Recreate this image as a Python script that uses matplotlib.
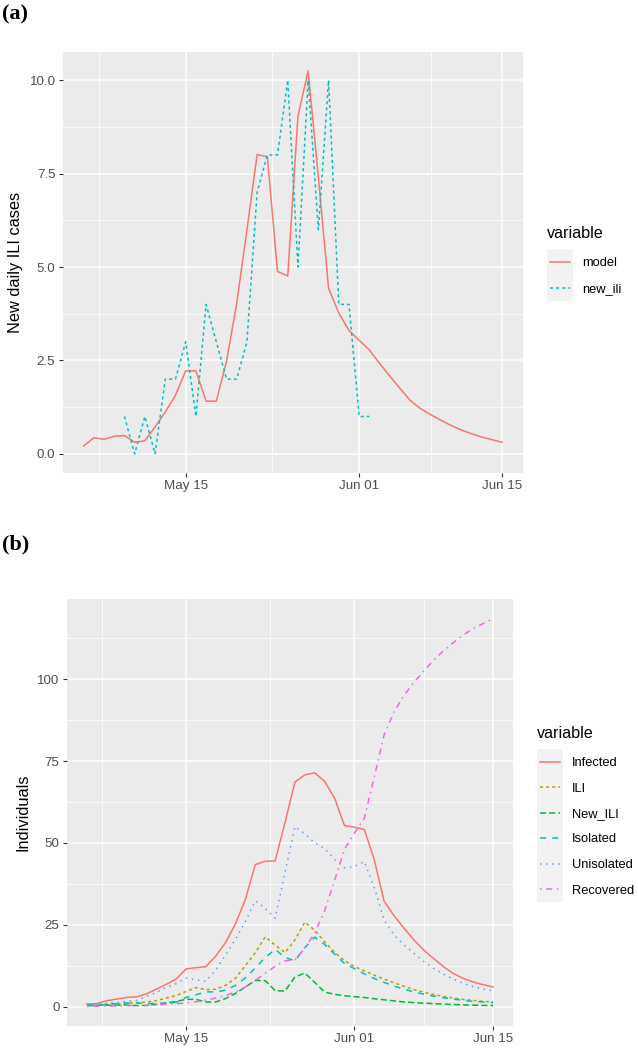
import numpy as np
import pandas as pd
import matplotlib
matplotlib.use("Agg")
import matplotlib.pyplot as plt
import matplotlib.dates as mdates
from matplotlib.lines import Line2D
from matplotlib.patches import Rectangle

plt.rcParams['font.family'] = ['Liberation Sans', 'DejaVu Sans']

# ---------------- data ----------------
# panel (a): daily from May 05 to Jun 15
model = [0.21, 0.43, 0.39, 0.47, 0.49, 0.31, 0.35, 0.72, 1.12, 1.57,
         2.22, 2.22, 1.41, 1.41, 2.47, 4.03, 5.99, 8.01, 7.95, 4.88,
         4.76, 9.04, 10.25, 7.40, 4.43, 3.77, 3.30, 3.04, 2.78, 2.42,
         2.08, 1.75, 1.43, 1.21, 1.05, 0.90, 0.76, 0.64, 0.54, 0.45,
         0.38, 0.31]
# observed new ILI, daily from May 09 to Jun 02
new_ili = [1, 0, 1, 0, 2, 2, 3, 1, 4, 3, 2, 2, 3, 7, 8, 8, 10, 5, 10, 6,
           10, 4, 4, 1, 1]

# panel (b): daily from May 05 to Jun 15
infected = [0.8, 0.9, 1.8, 2.3, 2.8, 3.0, 3.9, 5.3, 6.8, 8.4,
            11.5, 11.9, 12.2, 15.4, 19.6, 25.3, 32.8, 43.4, 44.4, 44.5,
            56.3, 68.6, 70.8, 71.4, 68.8, 63.7, 55.3, 54.8, 54.1, 45.0,
            32.2, 27.8, 24.0, 20.4, 17.3, 14.7, 12.2, 10.1, 8.6, 7.5,
            6.7, 6.0]
ili = [0.5, 0.6, 0.7, 0.8, 1.0, 1.2, 1.4, 1.8, 2.6, 3.4,
       4.6, 5.8, 5.2, 5.3, 6.5, 8.7, 12.5, 16.5, 21.3, 18.8,
       16.5, 20.4, 25.8, 23.3, 19.8, 16.6, 14.0, 12.3, 10.9, 9.6,
       8.4, 7.3, 6.2, 5.2, 4.4, 3.7, 3.1, 2.6, 2.2, 1.9,
       1.6, 1.4]
new_ili_model = model
isolated = [0.5, 0.4, 0.7, 0.9, 1.1, 1.1, 0.9, 1.0, 1.0, 1.3,
            2.8, 3.6, 4.5, 4.5, 5.0, 6.5, 8.8, 11.8, 15.0, 17.5,
            15.0, 14.0, 18.0, 21.2, 19.0, 16.0, 13.2, 11.6, 10.0, 8.6,
            7.4, 6.3, 5.3, 4.5, 3.8, 3.2, 2.7, 2.3, 1.9, 1.6,
            1.4, 1.2]
unisolated = [0.4, 0.6, 1.0, 1.3, 1.6, 1.9, 3.1, 4.3, 5.9, 7.0,
              8.7, 8.2, 7.7, 11.2, 15.8, 20.6, 26.0, 32.3, 30.0, 27.0,
              41.0, 55.0, 52.8, 50.0, 48.3, 45.0, 42.4, 42.8, 44.3, 36.5,
              26.5, 21.9, 18.9, 16.3, 13.8, 11.7, 9.9, 8.4, 7.1, 6.1,
              5.4, 4.8]
recovered = [0.0, 0.1, 0.2, 0.2, 0.3, 0.3, 0.4, 0.5, 0.7, 0.9,
             1.1, 1.5, 2.0, 2.6, 3.4, 4.5, 6.0, 8.0, 10.2, 12.3,
             14.0, 14.3, 17.8, 22.5, 29.3, 38.5, 48.0, 53.0, 57.5, 70.0,
             83.0, 90.0, 95.0, 99.0, 102.5, 105.8, 108.7, 111.2, 113.5, 115.5,
             117.0, 118.5]

model_start = '2020-05-05'
ili_start = '2020-05-09'
x_major = ['2020-05-15 00:00', '2020-06-01 00:00', '2020-06-15 00:00']
x_major_labels = ['May 15', 'Jun 01', 'Jun 15']
x_minor = ['2020-05-06 12:00', '2020-05-23 12:00', '2020-06-08 00:00']

a_labels = ['model', 'new_ili']
b_labels = ['Infected', 'ILI', 'New_ILI', 'Isolated', 'Unisolated', 'Recovered']

# ---------------- styles ----------------
W, H = 638, 1049
cols_a = ['#F8766D', '#00BFC4']
cols_b = ['#F8766D', '#B79F00', '#00BA38', '#00BFC4', '#619CFF', '#F564E3']
dashes_b = [None, (2, 2), (4, 2), (4, 4), (1, 3), (1, 3, 4, 3)]
LW = 1.1

fig = plt.figure(figsize=(W / 100, H / 100), dpi=100)
fig.patch.set_facecolor('white')


def px_axes(l, t, r, b):
    return fig.add_axes([l / W, 1 - b / H, (r - l) / W, (b - t) / H])


def to_num(strings):
    return mdates.date2num(pd.to_datetime(strings, format='%Y-%m-%d %H:%M'))


def style(ax, ymajor, yminor, ylabels):
    ax.set_facecolor('#EBEBEB')
    for s in ax.spines.values():
        s.set_visible(False)
    ax.set_axisbelow(True)
    ax.set_xticks(to_num(x_major))
    ax.set_xticklabels(x_major_labels)
    ax.set_xticks(to_num(x_minor), minor=True)
    ax.set_yticks(ymajor)
    ax.set_yticklabels(ylabels)
    ax.set_yticks(yminor, minor=True)
    ax.grid(which='major', color='white', lw=1.1)
    ax.grid(which='minor', color='white', lw=0.55)
    ax.tick_params(which='major', length=3.0, width=0.8, color='#333333',
                   labelsize=9.6, labelcolor='#4D4D4D', pad=2.2)
    ax.tick_params(which='minor', length=0)


def set_limits(ax, dates, ymax):
    d = mdates.date2num(dates)
    pad = 0.05 * (d[-1] - d[0])
    ax.set_xlim(d[0] - pad, d[-1] + pad)
    ax.set_ylim(-0.05 * ymax, ymax * 1.05)


def legend(x_title, y_title, x_key, y_first, step, labels, colors, dashes, x_text):
    fig.text(x_title / W, 1 - y_title / H, 'variable', fontsize=11.6,
             ha='left', va='baseline', color='black')
    n = len(labels)
    top = y_first - step / 2
    fig.add_artist(Rectangle((x_key / W, 1 - (top + n * step) / H), 25.5 / W,
                             n * step / H, transform=fig.transFigure,
                             facecolor='#F2F2F2', edgecolor='none'))
    for i, (lab, c, ds) in enumerate(zip(labels, colors, dashes)):
        yc = y_first + i * step
        ln = Line2D([(x_key + 2.5) / W, (x_key + 23) / W], [1 - yc / H, 1 - yc / H],
                    transform=fig.transFigure, color=c, lw=LW)
        if ds is not None:
            ln.set_dashes(ds)
        fig.add_artist(ln)
        fig.text(x_text / W, 1 - yc / H, lab, fontsize=9.3, ha='left',
                 va='center_baseline', color='black')


# ---------------- panel (a) ----------------
ax1 = px_axes(62.7, 51.7, 523, 473)
d_model = pd.date_range(model_start, periods=len(model), freq='D')
d_ili = pd.date_range(ili_start, periods=len(new_ili), freq='D')
ax1.plot(mdates.date2num(d_model), model, color=cols_a[0], lw=LW)
ax1.plot(mdates.date2num(d_ili), new_ili, color=cols_a[1], lw=LW, dashes=(2, 2))
style(ax1, [0, 2.5, 5, 7.5, 10], [1.25, 3.75, 6.25, 8.75],
      ['0.0', '2.5', '5.0', '7.5', '10.0'])
set_limits(ax1, d_model, max(max(model), max(new_ili)))
ax1.set_ylabel('New daily ILI cases', fontsize=11.8, color='black')
ax1.yaxis.set_label_coords((23 - 62.7) / 460.3, 0.5)

# ---------------- panel (b) ----------------
ax2 = px_axes(66.7, 599.3, 513.3, 1026)
series_b = [infected, ili, new_ili_model, isolated, unisolated, recovered]
for vals, c, ds in zip(series_b, cols_b, dashes_b):
    ln, = ax2.plot(mdates.date2num(d_model), vals, color=c, lw=LW)
    if ds is not None:
        ln.set_dashes(ds)
style(ax2, [0, 25, 50, 75, 100], [12.5, 37.5, 62.5, 87.5, 112.5],
      ['0', '25', '50', '75', '100'])
set_limits(ax2, d_model, max(max(s) for s in series_b))
ax2.set_ylabel('Individuals', fontsize=11.8, color='black')
ax2.yaxis.set_label_coords((30 - 66.7) / 446.6, 0.5)

# ---------------- legends ----------------
legend(547, 238.5, 547, 262, 26, a_labels, cols_a, [None, (2, 2)], 581.7)
legend(537, 738, 537, 761.5, 25.5, b_labels, cols_b, dashes_b, 571.7)

# ---------------- panel tags ----------------
fig.text(2 / W, 1 - 4 / H, '(a)', fontsize=16, fontweight='bold',
         family='Liberation Serif', ha='left', va='top')
fig.text(2 / W, 1 - 534 / H, '(b)', fontsize=16, fontweight='bold',
         family='Liberation Serif', ha='left', va='top')

fig.savefig('out.png', dpi=100)
